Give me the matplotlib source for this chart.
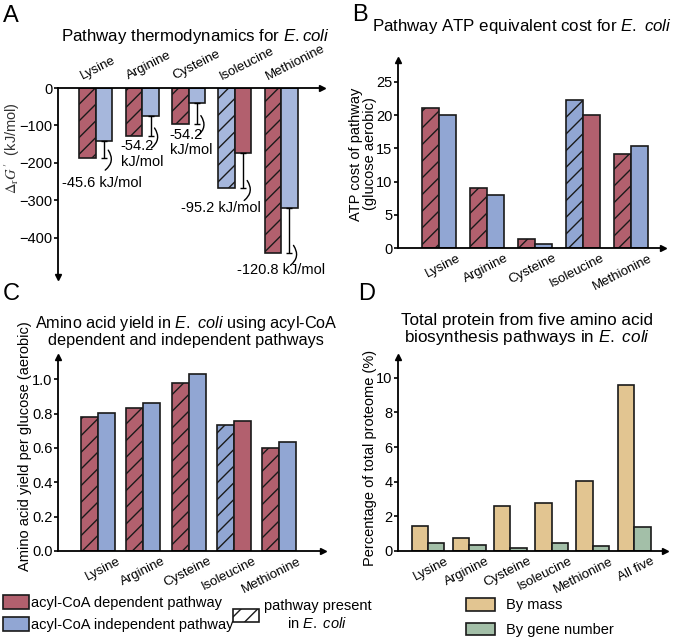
import matplotlib
matplotlib.use('Agg')
import matplotlib.pyplot as plt
import matplotlib.transforms as mtransforms
from matplotlib.patches import Patch
import numpy as np

plt.rcParams['font.family'] = ['Liberation Sans', 'DejaVu Sans']
plt.rcParams['mathtext.fontset'] = 'custom'
plt.rcParams['mathtext.rm'] = 'Liberation Sans'
plt.rcParams['mathtext.it'] = 'Liberation Sans:italic'
plt.rcParams['mathtext.bf'] = 'Liberation Sans:bold'
plt.rcParams['hatch.linewidth'] = 1.0
plt.rcParams['axes.linewidth'] = 1.3

# --- data ---
amino_acids = ['Lysine', 'Arginine', 'Cysteine', 'Isoleucine', 'Methionine']
native_pathway = ['dep', 'dep', 'dep', 'indep', 'dep']   # pathway present in E. coli

dg_dependent = [-187, -128, -95, -172.8, -441]
dg_independent = [-141.4, -73.8, -40.8, -268, -320.2]
dg_labels = ['-45.6 kJ/mol', '-54.2\nkJ/mol', '-54.2\nkJ/mol', '-95.2 kJ/mol', '-120.8 kJ/mol']

atp_dependent = [21, 9, 1.3, 20, 14.2]
atp_independent = [20, 8, 0.6, 22.3, 15.4]

yield_dependent = [0.78, 0.835, 0.98, 0.755, 0.60]
yield_independent = [0.805, 0.86, 1.03, 0.735, 0.635]

proteome_groups = ['Lysine', 'Arginine', 'Cysteine', 'Isoleucine', 'Methionine', 'All five']
by_mass = [1.45, 0.73, 2.57, 2.8, 4.02, 9.6]
by_gene_number = [0.44, 0.34, 0.2, 0.44, 0.3, 1.4]

RED = '#b2606e'
BLUE_A = '#a6b7dc'
BLUE = '#91a6d3'
TAN = '#e2c591'
GREEN = '#a3bfa8'
EDGE = '#1a1a1a'

W, H = 677, 641
fig = plt.figure(figsize=(W / 100, H / 100), dpi=100)


def add_ax(l, t, r, b):
    return fig.add_axes([l / W, 1 - b / H, (r - l) / W, (b - t) / H])


def fig_text(x, y, s, **kw):
    return fig.text(x / W, 1 - y / H, s, **kw)


def px_shift(dx, dy):
    # shift in pixels (dy positive = down)
    return mtransforms.ScaledTranslation(dx / 100, -dy / 100, fig.dpi_scale_trans)


def paired_bars(ax, dep, indep, width, blue):
    x = np.arange(len(dep))
    first = [d if n == 'dep' else i for d, i, n in zip(dep, indep, native_pathway)]
    second = [i if n == 'dep' else d for d, i, n in zip(dep, indep, native_pathway)]
    c1 = [RED if n == 'dep' else blue for n in native_pathway]
    c2 = [blue if n == 'dep' else RED for n in native_pathway]
    ax.bar(x - width / 2, first, width, color=c1, edgecolor=EDGE, linewidth=1.2, hatch='//')
    ax.bar(x + width / 2, second, width, color=c2, edgecolor=EDGE, linewidth=1.2)
    return x, first, second


def style_axes(ax, xlabels, offset, top=False, pad=3):
    ax.set_xticks(np.arange(len(xlabels)))
    ax.tick_params(axis='y', direction='out', length=3, width=1.2, labelsize=10.5, pad=1)
    ax.spines['right'].set_visible(False)
    if top:
        ax.spines['bottom'].set_visible(False)
        ax.xaxis.tick_top()
        ax.tick_params(axis='x', length=0, pad=pad, labelsize=9.5)
        ax.set_xticklabels(xlabels, rotation=27, ha='left', va='bottom', rotation_mode='anchor')
        ax.plot([1], [1], marker='>', color='k', ms=5, transform=ax.transAxes, clip_on=False)
        ax.plot([0], [0], marker='v', color='k', ms=5, transform=ax.transAxes, clip_on=False)
    else:
        ax.spines['top'].set_visible(False)
        ax.tick_params(axis='x', length=0, pad=pad, labelsize=9.5)
        ax.set_xticklabels(xlabels, rotation=27, ha='right', va='top', rotation_mode='anchor')
        ax.plot([1], [0], marker='>', color='k', ms=5, transform=ax.transAxes, clip_on=False)
        ax.plot([0], [1], marker='^', color='k', ms=5, transform=ax.transAxes, clip_on=False)
    for lab in ax.get_xticklabels():
        lab.set_transform(lab.get_transform() + px_shift(offset, 0))


# ---------------- A ----------------
axA = add_ax(58, 88, 322, 277)
wA = 0.356
x, first, second = paired_bars(axA, dg_dependent, dg_independent, wA, BLUE_A)
lower = [s - f for f, s in zip(first, second)]
axA.errorbar(x + wA / 2, second, yerr=[lower, [0] * len(x)], fmt='none', ecolor='k',
             elinewidth=1.0, capsize=2.5, capthick=1.0)
axA.set_xlim(-0.82, 4.88)
axA.set_ylim(-504, 0)
axA.set_yticks([0, -100, -200, -300, -400])
style_axes(axA, amino_acids, -12, top=True, pad=4)
axA.set_ylabel(r'$\Delta_\mathrm{r}G^{\prime}$  (kJ/mol)', fontsize=10.5, color='#333333',
               math_fontfamily='stix')
axA.yaxis.set_label_coords(-0.136, 0.68)

# label placement (pixels relative to the end of each error bar)
text_offsets = [(-2, 25, 'center'), (-30, 18, 'left'), (-27, 19, 'left'), (-22, 19, 'center'), (-8, 17, 'center')]
for xi, f, lab, (dx, dy, ha) in zip(x, first, dg_labels, text_offsets):
    ex = xi + wA / 2
    axA.annotate('', xy=(ex, f), xycoords=axA.transData + px_shift(1, 12),
                 xytext=(ex, f), textcoords=axA.transData + px_shift(4, -8),
                 arrowprops=dict(arrowstyle='-', color='k', lw=1.0,
                                 connectionstyle='arc3,rad=-0.45', shrinkA=0, shrinkB=0))
    axA.text(ex, f, lab, transform=axA.transData + px_shift(dx, dy), ha=ha, va='center',
             multialignment='left', fontsize=10.5, linespacing=1.1)

# ---------------- B ----------------
axB = add_ax(398, 60, 663, 248)
x, _, _ = paired_bars(axB, atp_dependent, atp_independent, 0.354, BLUE)
axB.set_xlim(-0.854, 4.67)
axB.set_ylim(0, 28.3)
axB.set_yticks([0, 5, 10, 15, 20, 25])
style_axes(axB, amino_acids, 18)
axB.set_ylabel('ATP cost of pathway\n(glucose aerobic)', fontsize=10.5, linespacing=1.0)
axB.yaxis.set_label_coords(-0.079, 0.5)

# ---------------- C ----------------
axC = add_ax(58, 357, 323, 551)
x, _, _ = paired_bars(axC, yield_dependent, yield_independent, 0.376, BLUE)
axC.set_xlim(-0.884, 4.97)
axC.set_ylim(0, 1.13)
axC.set_yticks([0, 0.2, 0.4, 0.6, 0.8, 1.0])
axC.set_yticklabels(['0.0', '0.2', '0.4', '0.6', '0.8', '1.0'])
style_axes(axC, amino_acids, 19)
axC.set_ylabel('Amino acid yield per glucose (aerobic)', fontsize=10.5)
axC.yaxis.set_label_coords(-0.098, 0.54)

# ---------------- D ----------------
axD = add_ax(398, 357, 665, 551)
xd = np.arange(len(proteome_groups))
wD = 0.40
axD.bar(xd - wD / 2, by_mass, wD, color=TAN, edgecolor=EDGE, linewidth=1.2, label='By mass')
axD.bar(xd + wD / 2, by_gene_number, wD, color=GREEN, edgecolor=EDGE, linewidth=1.2,
        label='By gene number')
axD.set_xlim(-0.728, 5.75)
axD.set_ylim(0, 11.2)
axD.set_yticks([0, 2, 4, 6, 8, 10])
style_axes(axD, proteome_groups, 17)
axD.set_ylabel('Percentage of total proteome (%)', fontsize=10.5)
axD.yaxis.set_label_coords(-0.079, 0.48)

# ---------------- titles and panel letters ----------------
fig_text(195, 37, r'Pathway thermodynamics for $\mathit{E.coli}$', ha='center', va='center', fontsize=12.2)
fig_text(522, 27, r'Pathway ATP equivalent cost for $\mathit{E.\ coli}$', ha='center', va='center', fontsize=12.2)
fig_text(186, 331, 'Amino acid yield in $\\mathit{E.\\ coli}$ using acyl-CoA\ndependent and independent pathways',
         ha='center', va='center', fontsize=11.7, linespacing=1.05)
fig_text(527, 330, 'Total protein from five amino acid\nbiosynthesis pathways in $\\mathit{E.\\ coli}$',
         ha='center', va='center', fontsize=12.3, linespacing=1.05)
for letter, (lx, ly) in zip('ABCD', [(3, 16), (352, 15), (3, 294), (358, 294)]):
    fig_text(lx, ly, letter, ha='left', va='center', fontsize=17)

# ---------------- legends ----------------
legC = fig.legend(handles=[Patch(facecolor=RED, edgecolor=EDGE, lw=1.2, label='acyl-CoA dependent pathway'),
                           Patch(facecolor=BLUE, edgecolor=EDGE, lw=1.2, label='acyl-CoA independent pathway')],
                  loc='upper left', bbox_to_anchor=(3 / W, 1 - 595 / H), frameon=False, fontsize=10.5,
                  handlelength=1.75, handleheight=1.05, handletextpad=0.2, labelspacing=0.5, borderpad=0,
                  borderaxespad=0)
legH = fig.legend(handles=[Patch(facecolor='white', edgecolor=EDGE, lw=1.2, hatch='//',
                                 label='pathway present\nin $\\mathit{E.\\ coli}$')],
                  loc='center left', bbox_to_anchor=(233 / W, 1 - 615 / H), frameon=False, fontsize=10.5,
                  handlelength=1.8, handleheight=1.05, handletextpad=0.3, borderpad=0, borderaxespad=0)
for t in legH.get_texts():
    t.set_multialignment('center')
legD = axD.legend(loc='upper left', bbox_to_anchor=(466 / W, 1 - 598 / H), bbox_transform=fig.transFigure,
                  frameon=False, fontsize=10.5, handlelength=2.0, handleheight=0.95, handletextpad=0.75,
                  labelspacing=0.7, borderpad=0, borderaxespad=0)

fig.savefig('out.png', dpi=100)
